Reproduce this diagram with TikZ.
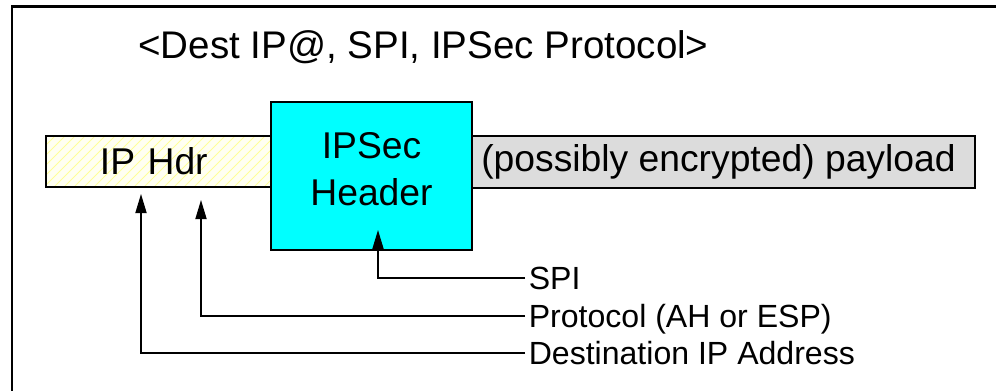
\documentclass[tikz,border=0pt]{standalone}
\usepackage{fontspec}
\setmainfont{Liberation Sans}
\usepackage{tikz}
\usetikzlibrary{positioning, calc, arrows.meta}
\definecolor{secCyan}{HTML}{00FFFF}
\definecolor{payGray}{HTML}{DCDCDC}
\definecolor{hdrBg}{HTML}{FFFFF2}
\definecolor{hdrHatch}{HTML}{FFFF99}

\begin{document}
\begin{tikzpicture}[
    x=0.025cm, y=-0.025cm,
    frame/.style={draw, line width=2pt},
    field/.style={draw, line width=1.2pt, rectangle, inner sep=0pt, font=\fontsize{26.5}{34}\selectfont},
    hatchline/.style={hdrHatch, line width=0.6pt},
    lbl/.style={anchor=west, inner xsep=2.5pt, inner ysep=0pt, text height=16pt, text depth=0pt, font=\fontsize{22.8}{27}\selectfont},
    arr/.style={-{Triangle[length=4.8mm, width=2.8mm]}, line width=1pt},
]
\useasboundingbox (0,0) rectangle (996,390);
\clip (0,0) rectangle (996,390);
\draw[frame] (12,6.5) rectangle (1100,500);

\node[anchor=base west, inner sep=0pt, font=\fontsize{27.4}{32}\selectfont] (title) at (138,58) {<Dest IP@, SPI, IPSec Protocol>};

\node[field, fill=hdrBg, inner xsep=1.35cm, text width=3.275cm, align=left, minimum height=1.275cm,
    path picture={\foreach \k in {0,...,30}{\draw[hatchline] ([xshift=\k*0.25cm-1.3cm]path picture bounding box.south west) -- ++(1.5cm,1.5cm);}}]
    (iphdr) at (165.5,161.5) {IP Hdr};
\node[field, fill=payGray, minimum width=12.825cm, minimum height=1.3cm] (payload) at (718.5,162) {(possibly encrypted) payload};
\node[field, fill=secCyan, minimum width=5.025cm, minimum height=3.7cm, align=center, text depth=0.35cm] (ipsec) at (371.5,176) {IPSec\\Header};

\node[lbl] (spi)  at (525,278) {SPI};
\node[lbl] (prot) at (525,316) {Protocol (AH or ESP)};
\node[lbl] (dst)  at (525,353) {Destination IP Address};

\coordinate (spitip)  at (378,230);
\coordinate (prottip) at (201,200);
\coordinate (dsttip)  at (141,194);

\draw[arr] (spi.west)  -| (spitip);
\draw[arr] (prot.west) -| (prottip);
\draw[arr] (dst.west)  -| (dsttip);
\end{tikzpicture}
\end{document}
